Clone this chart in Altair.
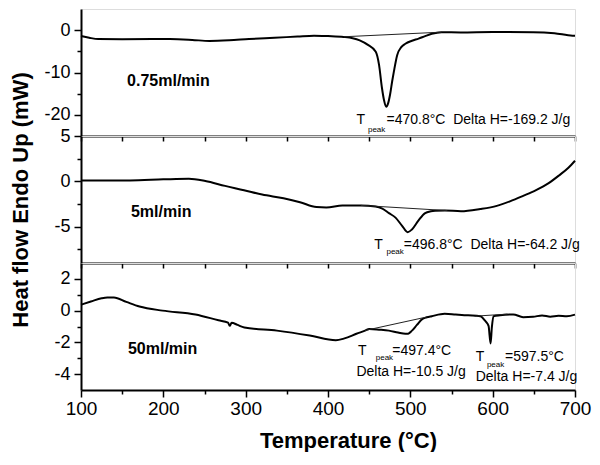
import altair as alt
import pandas as pd

FONT = "Liberation Sans"

# ---------------- data ----------------
# Panel 1: 0.75 ml/min
t_075 = [100, 110, 121, 150, 208, 235, 256, 280, 304, 335, 363, 383, 400, 419, 430, 438.5, 448, 458,
         462, 465.5, 468, 470.8, 473, 475.4, 478, 480, 484, 489, 494, 502, 510, 518, 526, 538, 561,
         600, 649, 675, 697, 700]
v_075 = [-1.4, -1.8, -2.1, -2.15, -2.1, -2.3, -2.55, -2.4, -2.1, -1.8, -1.5, -1.3, -1.4, -1.6, -1.9,
         -2.4, -3.4, -5.1, -8.2, -13.6, -16.5, -18.1, -17.3, -15.2, -12.0, -9.8, -5.9, -4.0, -3.2,
         -2.5, -2.0, -1.4, -0.86, -0.47, -0.53, -0.45, -0.47, -0.7, -1.3, -1.3]
base_075_t = [419, 538]
base_075_v = [-1.56, -0.47]

# Panel 2: 5 ml/min
t_5 = [100, 130, 159.5, 200, 231, 251, 275, 298, 320, 346, 366, 386, 398, 417.5, 440, 457.6, 466,
       474, 482, 490, 496.8, 502, 510, 518, 525, 530, 542, 561.5, 585, 605, 621, 637, 652.7, 668,
       680.6, 692, 700]
v_5 = [0.1, 0.1, 0.1, 0.22, 0.29, 0.04, -0.5, -0.97, -1.45, -1.87, -2.3, -2.84, -2.87, -2.66, -2.65,
       -2.76, -3.0, -3.5, -4.0, -4.9, -5.6, -5.3, -4.3, -3.5, -3.3, -3.24, -3.2, -3.3, -3.05, -2.7,
       -2.2, -1.6, -0.97, -0.2, 0.65, 1.5, 2.27]
base_5_t = [440, 545]
base_5_v = [-2.65, -3.22]

# Panel 3: 50 ml/min
t_50 = [100, 112, 125, 132, 140, 155, 171, 199, 239, 267, 278.6, 280.6, 283, 290, 298.4, 338, 377.8,
        409.5, 420, 434.5, 445, 450, 462, 474, 485, 494, 497.4, 502, 508, 514, 520, 526, 541.7, 555,
        565.5, 575, 585, 591, 595, 597.5, 599, 601, 609, 625, 637, 649, 660, 670, 680, 690, 700]
v_50 = [0.37, 0.57, 0.78, 0.83, 0.83, 0.55, 0.26, 0.0, -0.24, -0.61, -0.76, -0.96, -0.76, -0.9, -1.06,
        -1.26, -1.57, -1.87, -1.75, -1.46, -1.26, -1.16, -1.2, -1.26, -1.38, -1.46, -1.45, -1.26,
        -0.9, -0.55, -0.42, -0.35, -0.2, -0.25, -0.29, -0.3, -0.35, -0.65, -0.96, -2.07, -1.06,
        -0.35, -0.29, -0.24, -0.41, -0.39, -0.3, -0.38, -0.32, -0.36, -0.25]
base_50a_t = [445, 520]
base_50a_v = [-1.25, -0.4]
base_50b_t = [578, 618]
base_50b_v = [-0.35, -0.22]

# Labels / annotations
flow_labels = ["0.75ml/min", "5ml/min", "50ml/min"]
flow_label_t = [156, 160.7, 157]
flow_label_v = [-13.3, -3.9, -2.73]

ann1_text = ["T", "peak", "=470.8°C\u00a0 Delta H=-169.2 J/g"]
ann1_t = [434.5, 448.5, 471]
ann1_v = [-22.1, -24.0, -22.1]

ann2_text = ["T", "peak", "=496.8°C\u00a0 Delta H=-64.2 J/g"]
ann2_t = [456.3, 471, 492]
ann2_v = [-7.44, -7.98, -7.44]

ann3_text = ["T", "peak", "=497.4°C", "Delta H=-10.5 J/g", "T", "peak", "=597.5°C", "Delta H=-7.4 J/g"]
ann3_t = [436.5, 458, 478, 434.5, 579.4, 593, 615, 579.4]
ann3_v = [-2.79, -3.09, -2.79, -4.11, -3.2, -3.54, -3.2, -4.41]

y_domains = [[-25, 5], [-9, 5], [-5, 3]]
y_ticks = [[0, -5, -10, -15, -20], [5, 2.5, 0, -2.5, -5, -7.5], [2, 1, 0, -1, -2, -3, -4]]
y_major = [10, 5, 2]

x_ticks = list(range(100, 701, 50))

W, H = 494, 127


def panel(i, t, v, bases, ann_text, ann_t, ann_v, bottom):
    if bottom:
        xaxis = alt.Axis(values=x_ticks,
                         labelExpr="datum.value % 100 === 0 ? toString(datum.value) : ''",
                         tickSize={"condition": {"test": "datum.value % 100 === 0", "value": 7}, "value": 4},
                         labelFontSize=19, labelFont=FONT, labelColor="black", labelFlush=False,
                         labelOverlap=False, labelPadding=2, grid=False,
                         title="Temperature (°C)", titleFont=FONT, titleFontSize=22,
                         titleFontWeight="bold", titleColor="black", titlePadding=12,
                         titleX=W / 2 + 20,
                         domainColor="black", domainWidth=2, tickColor="black", tickWidth=1.5)
    else:
        xaxis = alt.Axis(values=x_ticks, labels=False, tickSize=5, grid=False, title=None,
                         domainColor="black", domainWidth=2, tickColor="black", tickWidth=1.5)
    m = y_major[i]
    yargs = dict(values=y_ticks[i],
                 labelExpr=f"abs(datum.value % {m}) < 0.001 ? toString(datum.value) : ''",
                 tickSize={"condition": {"test": f"abs(datum.value % {m}) < 0.001", "value": 7}, "value": 4},
                 labelFontSize=18, labelFont=FONT, labelColor="black", labelFlush=False,
                 labelOverlap=False, labelPadding=4, grid=False,
                 domainColor="black", domainWidth=2, tickColor="black", tickWidth=1.5)
    if i == 1:
        yaxis = alt.Axis(title="Heat flow Endo Up (mW)", titleFont=FONT, titleFontSize=22,
                         titleFontWeight="bold", titleColor="black", titleX=-49,
                         titleBaseline="bottom", **yargs)
    else:
        yaxis = alt.Axis(title=None, **yargs)

    xenc = alt.X("T:Q", scale=alt.Scale(domain=[100, 700], nice=False, zero=False), axis=xaxis)
    yenc = alt.Y("v:Q", scale=alt.Scale(domain=y_domains[i], nice=False, zero=False), axis=yaxis)

    curve = alt.Chart(pd.DataFrame({"T": t, "v": v})).mark_line(
        color="black", strokeWidth=2, interpolate="monotone").encode(x=xenc, y=yenc)

    brows = []
    for k, (bt, bv) in enumerate(bases):
        for a, b in zip(bt, bv):
            brows.append({"T": a, "v": b, "g": k})
    base = alt.Chart(pd.DataFrame(brows)).mark_line(color="#222", strokeWidth=1).encode(
        x=xenc, y=yenc, detail="g:N")

    lab = alt.Chart(pd.DataFrame({"T": [flow_label_t[i]], "v": [flow_label_v[i]],
                                  "s": [flow_labels[i]]})).mark_text(
        font=FONT, fontSize=16, fontWeight="bold", align="left", baseline="alphabetic",
        color="black").encode(x=xenc, y=yenc, text="s:N")

    sizes = [8 if s == "peak" else 14 for s in ann_text]
    ann = alt.Chart(pd.DataFrame({"T": ann_t, "v": ann_v, "s": ann_text, "fs": sizes})).mark_text(
        font=FONT, align="left", baseline="alphabetic", color="black").encode(
        x=xenc, y=yenc, text="s:N", size=alt.Size("fs:Q", scale=None, legend=None))

    return alt.layer(curve, base, lab, ann).properties(width=W, height=H)


p1 = panel(0, t_075, v_075, [(base_075_t, base_075_v)], ann1_text, ann1_t, ann1_v, False)
p2 = panel(1, t_5, v_5, [(base_5_t, base_5_v)], ann2_text, ann2_t, ann2_v, False)
p3 = panel(2, t_50, v_50, [(base_50a_t, base_50a_v), (base_50b_t, base_50b_v)],
           ann3_text, ann3_t, ann3_v, True)

chart = alt.vconcat(p1, p2, p3, spacing=0, bounds="flush").properties(
    padding={"left": 0, "top": 0, "right": 0, "bottom": 0}
).configure_view(stroke="black", strokeWidth=2).configure(background="white")

chart.save("out.html", embed_options={"renderer": "svg", "actions": False})
